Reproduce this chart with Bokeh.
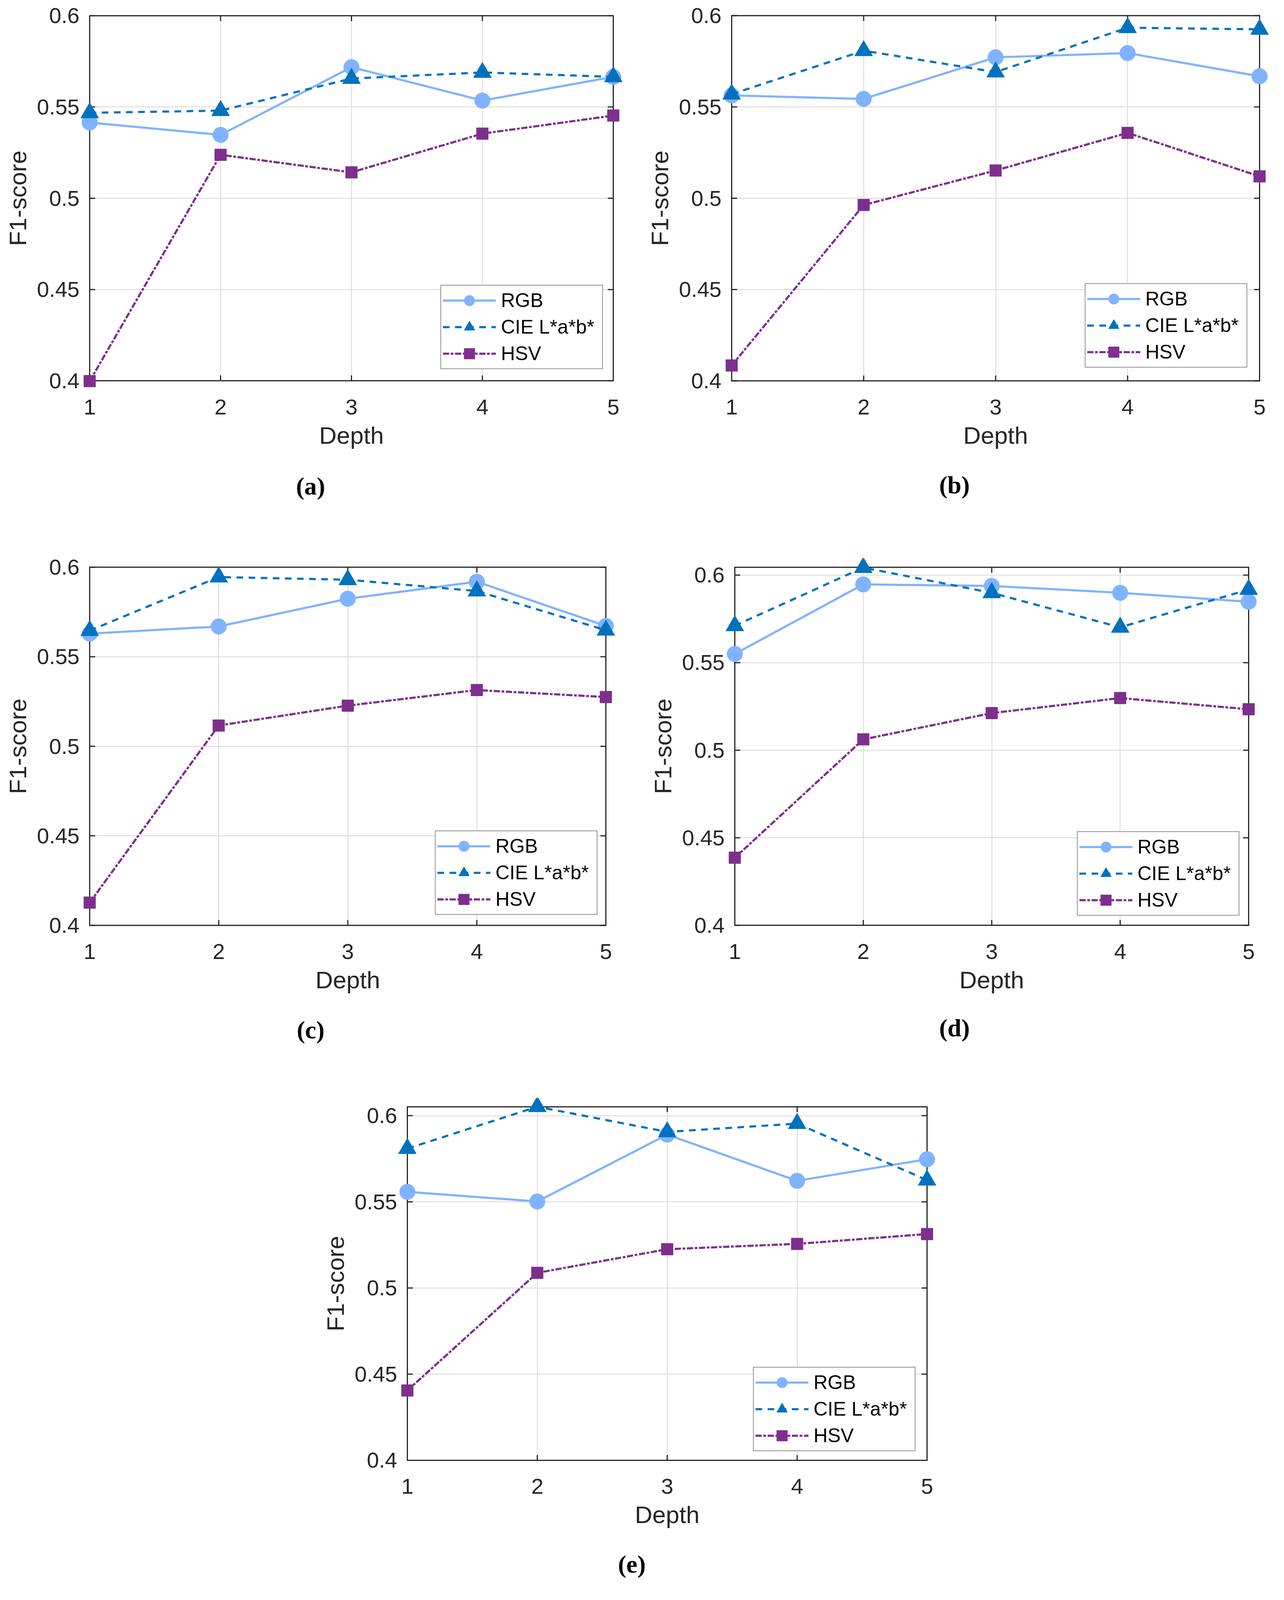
from bokeh.plotting import figure
from bokeh.models import (Range1d, LinearAxis, Grid, FixedTicker, Legend, LegendItem,
                          Title, ColumnDataSource, Spacer)
from bokeh.layouts import row, column
from bokeh.embed import file_html
from bokeh.resources import INLINE

# ---------------- data ----------------
depth = [1, 2, 3, 4, 5]
x_ticks = [1, 2, 3, 4, 5]
x_tick_labels = ["1", "2", "3", "4", "5"]
y_ticks = [0.4, 0.45, 0.5, 0.55, 0.6]
y_tick_labels = ["0.4", "0.45", "0.5", "0.55", "0.6"]
series_names = ["RGB", "CIE L*a*b*", "HSV"]
x_label = "Depth"
y_label = "F1-score"
captions = ["(a)", "(b)", "(c)", "(d)", "(e)"]

rgb_a = [0.5415, 0.5347, 0.5718, 0.5535, 0.5665]
cie_a = [0.5468, 0.5480, 0.5656, 0.5689, 0.5665]
hsv_a = [0.3998, 0.5238, 0.5142, 0.5354, 0.5453]

rgb_b = [0.5563, 0.5544, 0.5772, 0.5795, 0.5668]
cie_b = [0.5570, 0.5808, 0.5691, 0.5934, 0.5925]
hsv_b = [0.4084, 0.4963, 0.5152, 0.5358, 0.5120]

rgb_c = [0.5629, 0.5669, 0.5824, 0.5919, 0.5672]
cie_c = [0.5646, 0.5945, 0.5930, 0.5867, 0.5648]
hsv_c = [0.4127, 0.5116, 0.5227, 0.5314, 0.5275]

rgb_d = [0.5550, 0.5947, 0.5938, 0.5899, 0.5848]
cie_d = [0.5711, 0.6043, 0.5899, 0.5702, 0.5918]
hsv_d = [0.4386, 0.5062, 0.5212, 0.5298, 0.5234]

rgb_e = [0.5558, 0.5502, 0.5890, 0.5622, 0.5747]
cie_e = [0.5809, 0.6052, 0.5906, 0.5954, 0.5626]
hsv_e = [0.4405, 0.5088, 0.5225, 0.5256, 0.5313]

y_bottom = 0.4
y_tops = [0.6, 0.6, 0.6, 0.6045, 0.6051]

# ---------------- style ----------------
COLORS = ["#80B3FF", "#0072BD", "#7E2F8E"]
DASHES = ["solid", "17 14", "16 4 7 4"]
MARKERS = ["circle", "triangle", "square"]
MSIZES = [40, 46, 30]
AX = "#262626"
GRID = "#dedede"
SANS = "Liberation Sans"

# vertical compression so the whole page stays inside the visible window
K = 0.926


def Y(v):
    return 8 + (v - 8) * K


# reference page-coordinate layout: figure (x, y0, w, y1), box (l, t, r, b),
# legend (l, t, b), caption (x, y)
LAYOUT = [
    dict(fig=(8, 8, 1635, 1450), box=(237, 51, 1577, 1073), leg=(1135, 821, 1032), cap=(802, 1369)),
    dict(fig=(1643, 8, 1635, 1450), box=(1880, 51, 3231, 1080), leg=(2784, 823, 1038), cap=(2448, 1369)),
    dict(fig=(8, 1450, 1635, 2950), box=(237, 1561, 1558, 2571), leg=(1121, 2322, 2534), cap=(804, 2861)),
    dict(fig=(1643, 1450, 1635, 2950), box=(1888, 1576, 3203, 2580), leg=(2764, 2336, 2543), cap=(2448, 2861)),
    dict(fig=(800, 2950, 1700, 4446), box=(1050, 3069, 2380, 4083), leg=(1935, 3838, 4050), cap=(1626, 4372)),
]

PAD = 24          # space between box and frame so edge markers are not cut
TICK = 14         # inward tick length, px
LEG_PAD, LEG_GH = 4, 68
LEG_H = 2 * LEG_PAD + 3 * LEG_GH
CAP_BASE = 163    # caption offset produced by the x axis block below the frame


def make_panel(idx, rgb, cie, hsv):
    spec = LAYOUT[idx]
    ytop = y_tops[idx]
    fx, fy0, fw, fy1 = spec["fig"]
    fy = round(Y(fy0))
    fh = min(round(Y(fy1)), 4100) - fy
    bl, bt, br, bb = spec["box"]
    bt, bb = round(Y(bt)), round(Y(bb))
    fl, ft, fr, fb = bl - PAD, bt - PAD, br + PAD, bb + PAD
    xspan = x_ticks[-1] - x_ticks[0]
    yspan = ytop - y_bottom
    dx = PAD * xspan / (br - bl)
    dy = PAD * yspan / (bb - bt)
    tdx = TICK * xspan / (br - bl)
    tdy = TICK * yspan / (bb - bt)

    p = figure(width=fw, height=fh, title=None, x_axis_type=None, y_axis_type=None,
               toolbar_location=None, output_backend="svg",
               x_range=Range1d(x_ticks[0] - dx, x_ticks[-1] + dx),
               y_range=Range1d(y_bottom - dy, ytop + dy),
               min_border_left=fl - fx, min_border_right=fx + fw - fr,
               min_border_top=ft - fy, min_border_bottom=fy + fh - fb,
               outline_line_color=None, background_fill_color="white",
               border_fill_color="white")

    xt = FixedTicker(ticks=x_ticks)
    yt = FixedTicker(ticks=y_ticks)
    xo = {t: l for t, l in zip(x_ticks, x_tick_labels)}
    yo = {t: l for t, l in zip(y_ticks, y_tick_labels)}

    p.add_layout(Grid(dimension=0, ticker=xt, cross_bounds=(y_bottom, ytop),
                      grid_line_color=GRID, grid_line_width=2.5))
    p.add_layout(Grid(dimension=1, ticker=yt, cross_bounds=(x_ticks[0], x_ticks[-1]),
                      grid_line_color=GRID, grid_line_width=2.5))

    def axis(ticker, overrides, label, standoff, lab_standoff):
        return LinearAxis(ticker=ticker, major_label_overrides=overrides,
                          axis_line_color=None, major_tick_line_color=None,
                          minor_tick_line_color=None,
                          major_tick_in=0, major_tick_out=0,
                          minor_tick_in=0, minor_tick_out=0,
                          major_label_text_font=SANS, major_label_text_font_size="56px",
                          major_label_text_color=AX, major_label_standoff=standoff,
                          axis_label=label, axis_label_text_font=SANS,
                          axis_label_text_font_size="62px",
                          axis_label_text_font_style="normal",
                          axis_label_text_color=AX, axis_label_standoff=lab_standoff)

    p.add_layout(axis(yt, yo, y_label, 2, 12), "left")
    p.add_layout(axis(xt, xo, x_label, 24, 16), "below")

    # axes box (drawn beneath the data, like the reference)
    p.quad(left=[x_ticks[0]], right=[x_ticks[-1]], bottom=[y_bottom], top=[ytop],
           fill_color=None, line_color=AX, line_width=3, line_join="miter")
    # inward tick marks on all four sides of the box
    yts = [v for v in y_ticks if v <= ytop]
    n_y, n_x = len(yts), len(x_ticks)
    p.segment(x0=[x_ticks[0]] * n_y, x1=[x_ticks[0] + tdx] * n_y, y0=yts, y1=yts,
              line_color=AX, line_width=3)
    p.segment(x0=[x_ticks[-1] - tdx] * n_y, x1=[x_ticks[-1]] * n_y, y0=yts, y1=yts,
              line_color=AX, line_width=3)
    p.segment(x0=x_ticks, x1=x_ticks, y0=[y_bottom] * n_x, y1=[y_bottom + tdy] * n_x,
              line_color=AX, line_width=3)
    p.segment(x0=x_ticks, x1=x_ticks, y0=[ytop - tdy] * n_x, y1=[ytop] * n_x,
              line_color=AX, line_width=3)

    src = ColumnDataSource(dict(depth=depth, rgb=rgb, cie=cie, hsv=hsv))
    items = []
    for k, col in enumerate(["rgb", "cie", "hsv"]):
        lr = p.line("depth", col, source=src, line_color=COLORS[k], line_width=5.5,
                    line_dash=DASHES[k])
        sr = p.scatter("depth", col, source=src, marker=MARKERS[k], size=MSIZES[k],
                       fill_color=COLORS[k], line_color=COLORS[k], line_width=1)
        items.append(LegendItem(label=series_names[k], renderers=[lr, sr]))

    ll, ltop, lbot = spec["leg"]
    lcenter = Y((ltop + lbot) / 2)
    leg = Legend(items=items, location=(ll - fl, fb - (lcenter + LEG_H / 2)),
                 orientation="vertical", margin=0, padding=LEG_PAD, spacing=0,
                 glyph_width=136, glyph_height=LEG_GH, label_height=LEG_GH,
                 label_standoff=13, label_width=255,
                 label_text_font=SANS, label_text_font_size="50px",
                 label_text_color="black",
                 border_line_color=AX, border_line_width=2.5,
                 background_fill_color="white", background_fill_alpha=1.0)
    p.add_layout(leg)

    cx, cy = spec["cap"]
    cap_off = Y(cy) - bb
    p.add_layout(Title(text=captions[idx], align="left", offset=cx - fl - 37,
                       standoff=max(0, round(cap_off - CAP_BASE)),
                       text_font="Liberation Serif",
                       text_font_style="bold", text_font_size="64px",
                       text_color="black"), "below")
    return p


pa = make_panel(0, rgb_a, cie_a, hsv_a)
pb = make_panel(1, rgb_b, cie_b, hsv_b)
pc = make_panel(2, rgb_c, cie_c, hsv_c)
pd = make_panel(3, rgb_d, cie_d, hsv_d)
pe = make_panel(4, rgb_e, cie_e, hsv_e)

layout = column(row(pa, pb), row(pc, pd), row(Spacer(width=792, height=10), pe))
open("out.html", "w").write(file_html(layout, INLINE))
